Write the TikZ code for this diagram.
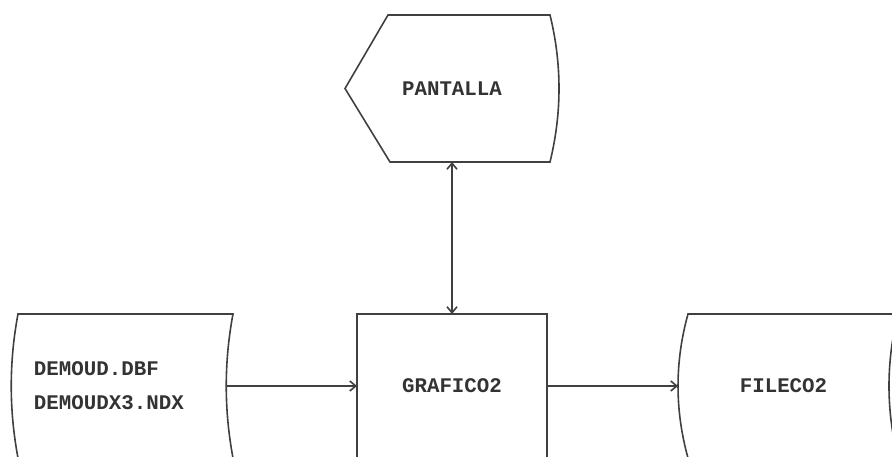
\documentclass[tikz,border=0pt]{standalone}
\usepackage{fontspec}
\setmonofont{Liberation Mono}
\usepackage{tikz}
\usetikzlibrary{arrows.meta}
\tikzset{
  caja/.style     = {draw=none,outer sep=0pt,inner sep=0pt,text=black!80,
                     font=\ttfamily\bfseries\fontsize{20.8}{34}\selectfont},
  borde/.style    = {black!75,line width=1.6pt},
  flecha/.style   = {-{Straight Barb[length=6pt,width=10pt]},black!75,line width=1.6pt},
  flechados/.style= {{Straight Barb[length=6pt,width=10pt]}-{Straight Barb[length=6pt,width=10pt]},black!75,line width=1.6pt}
}

\begin{document}
\begin{tikzpicture}[x=1pt,y=-1pt]
  \useasboundingbox (0,0) rectangle (892,457);
  % nodos
  \node[caja,minimum width=215pt,minimum height=144pt,text width=169pt,
        inner xsep=23pt,align=left] (datos) at (118.5,386) {DEMOUD.DBF\\DEMOUDX3.NDX};
  \node[caja,minimum width=190pt,minimum height=144pt] (grafico) at (452,386) {GRAFICO2};
  \node[caja,minimum width=211pt,minimum height=144pt] (archivo) at (783.5,386) {FILECO2};
  \node[caja,minimum width=214pt,minimum height=147pt] (pantalla) at (452,88.5) {PANTALLA};
  % contornos
  \draw[borde] ([xshift=7pt]datos.south west) .. controls +(-9,-48) and +(-9,48) ..
    ([xshift=7pt]datos.north west) -- ([xshift=7pt]datos.north east)
    .. controls +(-9,48) and +(-9,-48) .. ([xshift=7pt]datos.south east);
  \draw[borde] ([yshift=-6pt]grafico.south west) -- (grafico.north west)
    -- (grafico.north east) -- ([yshift=-6pt]grafico.south east);
  \draw[borde] ([xshift=10pt]archivo.south west) .. controls +(-13.3,-48) and +(-13.3,48) ..
    ([xshift=10pt]archivo.north west) -- ([xshift=9pt]archivo.north east)
    .. controls +(-12,48) and +(-12,-48) .. ([xshift=9pt]archivo.south east);
  \draw[borde] (pantalla.west) -- ([xshift=43pt]pantalla.north west)
    -- ([xshift=-9pt]pantalla.north east) .. controls +(12,49) and +(12,-49) ..
    ([xshift=-9pt]pantalla.south east) -- ([xshift=45pt]pantalla.south west) -- cycle;
  % conexiones
  \draw[flecha] (datos.east) -- (grafico.west);
  \draw[flecha] (grafico.east) -- (archivo.west);
  \draw[flechados] (pantalla.south) -- (grafico.north);
\end{tikzpicture}
\end{document}
